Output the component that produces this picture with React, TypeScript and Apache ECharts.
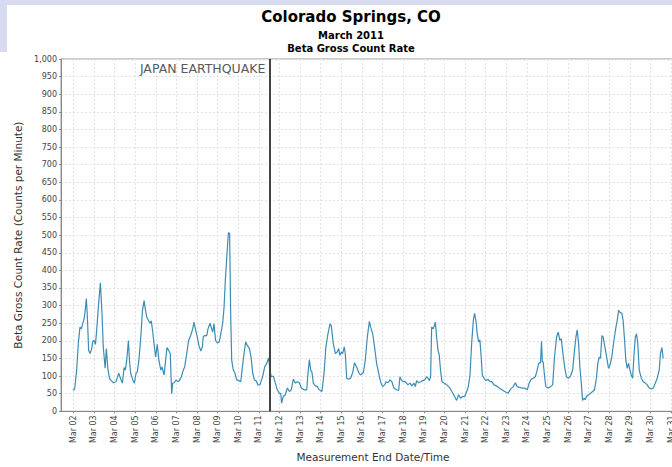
import React, { useEffect, useRef } from "react";
import * as echarts from "echarts";

// Measurement end time, as day of March 2011 (fractional), and gross beta count rate (CPM)
const readingDays: number[] = [
  1.97, 2.06, 2.16, 2.24, 2.32, 2.39, 2.45, 2.52, 2.57, 2.63, 2.68, 2.74, 2.81, 2.89, 2.94, 3.0, 3.07, 3.13, 3.21, 3.31,
  3.39, 3.45, 3.54, 3.6, 3.67, 3.75, 3.83, 3.94, 4.07, 4.2, 4.3, 4.38, 4.46, 4.52, 4.59, 4.67, 4.72, 4.78, 4.88, 4.96,
  5.04, 5.1, 5.18, 5.27, 5.35, 5.43, 5.49, 5.56, 5.65, 5.72, 5.78, 5.85, 5.93, 5.99, 6.07, 6.15, 6.24, 6.3, 6.4, 6.46,
  6.54, 6.62, 6.7, 6.77, 6.82, 6.9, 6.98, 7.06, 7.14, 7.24, 7.33, 7.4, 7.5, 7.59, 7.69, 7.79, 7.85, 7.92, 8.01, 8.09,
  8.18, 8.26, 8.3, 8.37, 8.47, 8.53, 8.63, 8.71, 8.76, 8.82, 8.9, 8.98, 9.08, 9.15, 9.24, 9.31, 9.37, 9.47, 9.52, 9.58,
  9.63, 9.68, 9.76, 9.84, 9.92, 10.03, 10.12, 10.2, 10.28, 10.36, 10.44, 10.54, 10.62, 10.7, 10.78, 10.86, 10.96, 11.05,
  11.18, 11.28, 11.38, 11.47, 11.54, 11.6, 11.7, 11.8, 11.89, 11.99, 12.06, 12.1, 12.18, 12.28, 12.38, 12.48, 12.57,
  12.67, 12.77, 12.86, 12.96, 13.06, 13.19, 13.32, 13.38, 13.45, 13.51, 13.57, 13.64, 13.74, 13.83, 13.93, 14.06, 14.16,
  14.25, 14.35, 14.45, 14.51, 14.61, 14.71, 14.8, 14.87, 14.93, 15.0, 15.06, 15.14, 15.19, 15.26, 15.35, 15.45, 15.55,
  15.64, 15.74, 15.84, 15.93, 16.07, 16.16, 16.26, 16.36, 16.42, 16.52, 16.61, 16.71, 16.81, 16.9, 17.0, 17.1, 17.16,
  17.26, 17.36, 17.45, 17.55, 17.68, 17.78, 17.84, 17.91, 18.0, 18.1, 18.23, 18.33, 18.42, 18.52, 18.59, 18.65, 18.75,
  18.85, 18.94, 19.04, 19.14, 19.2, 19.27, 19.33, 19.38, 19.46, 19.56, 19.62, 19.69, 19.75, 19.81, 19.88, 19.98, 20.11,
  20.24, 20.36, 20.49, 20.59, 20.69, 20.78, 20.88, 20.98, 21.08, 21.16, 21.24, 21.32, 21.4, 21.46, 21.53, 21.59, 21.66,
  21.72, 21.77, 21.84, 21.92, 22.01, 22.11, 22.21, 22.3, 22.4, 22.53, 22.66, 22.79, 22.92, 23.08, 23.21, 23.34, 23.44,
  23.53, 23.63, 23.76, 23.89, 24.02, 24.11, 24.21, 24.31, 24.41, 24.5, 24.57, 24.66, 24.71, 24.75, 24.79, 24.86, 24.92,
  25.02, 25.15, 25.25, 25.34, 25.44, 25.52, 25.6, 25.67, 25.73, 25.83, 25.92, 26.02, 26.12, 26.22, 26.31, 26.38, 26.44,
  26.51, 26.57, 26.64, 26.7, 26.77, 26.83, 26.89, 26.99, 27.09, 27.19, 27.28, 27.38, 27.44, 27.51, 27.57, 27.64, 27.7,
  27.77, 27.87, 27.96, 28.03, 28.12, 28.22, 28.32, 28.38, 28.45, 28.51, 28.61, 28.67, 28.74, 28.8, 28.87, 28.93, 29.0,
  29.06, 29.13, 29.19, 29.26, 29.32, 29.38, 29.45, 29.55, 29.64, 29.74, 29.84, 29.93, 30.03, 30.13, 30.23, 30.32, 30.42,
  30.48, 30.55, 30.61,
];

const countRates: number[] = [
  60, 62, 117, 192, 239, 234, 248, 262, 285, 320, 267, 173, 164, 178, 199, 201, 190, 229, 295, 365,
  276, 183, 122, 178, 122, 94, 87, 81, 84, 108, 91, 80, 124, 117, 145, 201, 145, 108, 89, 80,
  108, 112, 145, 211, 285, 314, 290, 267, 257, 250, 257, 225, 183, 154, 190, 145, 117, 126, 103, 136,
  181, 173, 164, 50, 80, 81, 89, 84, 87, 98, 117, 126, 164, 201, 215, 234, 253, 234, 211, 187,
  171, 183, 211, 215, 215, 234, 250, 234, 225, 248, 201, 194, 197, 220, 248, 295, 370, 463, 507, 505,
  276, 145, 117, 108, 89, 87, 84, 126, 164, 197, 187, 178, 154, 108, 89, 87, 75, 75,
  98, 126, 136, 152, 117, 98, 100, 80, 61, 51, 51, 23, 42, 47, 66, 56, 61,
  91, 80, 84, 81, 66, 61, 61, 108, 147, 117, 112, 80, 72, 70, 61, 56, 108,
  183, 220, 248, 243, 192, 164, 168, 178, 159, 168, 164, 183, 164, 94, 91, 94, 110,
  138, 126, 110, 103, 110, 145, 211, 255, 239, 220, 183, 136, 108, 84, 70, 75, 84,
  81, 89, 84, 66, 61, 59, 98, 89, 84, 84, 75, 80, 72, 80, 70, 87, 81,
  84, 87, 89, 98, 94, 87, 98, 239, 234, 253, 211, 173, 159, 117, 84, 80, 75,
  68, 56, 42, 31, 47, 37, 42, 42, 56, 70, 103, 192, 257, 278, 257, 220, 197,
  203, 164, 103, 94, 87, 91, 84, 84, 75, 72, 66, 61, 56, 51, 63, 70, 81,
  70, 68, 66, 66, 61, 80, 91, 94, 98, 117, 136, 138, 199, 140, 140, 98, 70,
  66, 70, 75, 154, 211, 225, 201, 206, 173, 126, 98, 94, 100, 117, 173, 211, 231,
  192, 126, 80, 31, 37, 33, 42, 47, 51, 56, 61, 98, 136, 154, 150, 215, 211,
  187, 154, 122, 131, 154, 201, 239, 257, 287, 281, 278, 257, 201, 145, 122, 136, 117,
  103, 94, 154, 211, 220, 192, 117, 94, 84, 80, 75, 66, 63, 66, 80, 94, 117,
  164, 181, 150,
];

// Daily ticks (day of March) and y ticks
const dayTicks: number[] = [2, 3, 4, 5, 6, 7, 8, 9, 10, 11, 12, 13, 14, 15, 16, 17, 18, 19, 20, 21, 22, 23, 24, 25, 26, 27, 28, 29, 30, 31];
const earthquakeDay = 11.51;
const earthquakeLabel = "JAPAN EARTHQUAKE";

const titleText = "Colorado Springs, CO";
const subTitle1 = "March 2011";
const subTitle2 = "Beta Gross Count Rate";
const yAxisName = "Beta Gross Count Rate (Counts per Minute)";
const xAxisName = "Measurement End Date/Time";

const FONT = "DejaVu Sans";

export default function App() {
  const ref = useRef<HTMLDivElement>(null);

  useEffect(() => {
    if (!ref.current) return;
    const chart = echarts.init(ref.current, undefined, { renderer: "svg" });
    const seriesData = readingDays.map((d, i) => [d, countRates[i]]);

    const backdrop = [
      { type: "rect", left: 0, top: 0, shape: { x: 0, y: 0, width: 702, height: 5 }, style: { fill: "#d8daf0" }, silent: true, z: 100 },
      { type: "rect", left: 0, top: 5, shape: { x: 0, y: 0, width: 7, height: 47 }, style: { fill: "#d8daf0" }, silent: true, z: 100 },
    ];

    chart.setOption({
      animation: false,
      backgroundColor: "#ffffff",
      title: [
        { text: titleText, left: "center", top: 4, textStyle: { fontFamily: FONT, fontWeight: "bold", fontSize: 15, color: "#000" } },
        { text: subTitle1, left: "center", top: 25, textStyle: { fontFamily: FONT, fontWeight: "bold", fontSize: 10, color: "#000" } },
        { text: subTitle2, left: "center", top: 38, textStyle: { fontFamily: FONT, fontWeight: "bold", fontSize: 10, color: "#000" } },
      ],
      grid: {
        left: 61,
        top: 59,
        right: 17,
        bottom: 52,
        show: true,
        borderColor: "#999",
        borderWidth: 1,
        backgroundColor: "#ffffff",
      },
      xAxis: {
        type: "value",
        min: 1.4,
        max: 31.67,
        name: xAxisName,
        nameLocation: "middle",
        nameGap: 38,
        nameTextStyle: { fontFamily: FONT, fontSize: 10.5, color: "#333" },
        axisLine: { show: true, onZero: false, lineStyle: { color: "#888" } },
        axisTick: { show: true, length: 2, customValues: dayTicks, lineStyle: { color: "#888" } },
        axisLabel: {
          customValues: dayTicks,
          rotate: 90,
          margin: 4,
          fontFamily: FONT,
          fontSize: 8,
          color: "#444",
          formatter: (v: number) => "Mar " + String(Math.round(v)).padStart(2, "0"),
        },
        splitLine: { show: true, lineStyle: { type: [2, 2], color: "#e2e2e2", width: 1 } },
      },
      yAxis: {
        type: "value",
        min: 0,
        max: 1000,
        interval: 50,
        name: yAxisName,
        nameLocation: "middle",
        nameGap: 30,
        nameTextStyle: { fontFamily: FONT, fontSize: 10.5, color: "#333" },
        axisLine: { show: true, lineStyle: { color: "#888" } },
        axisTick: { show: true, length: 2, lineStyle: { color: "#888" } },
        axisLabel: {
          margin: 4,
          fontFamily: FONT,
          fontSize: 8,
          color: "#444",
          formatter: (v: number) => v.toLocaleString("en-US"),
        },
        splitLine: { show: true, lineStyle: { type: [2, 2], color: "#e2e2e2", width: 1 } },
      },
      series: [
        {
          type: "line",
          data: seriesData,
          showSymbol: false,
          symbol: "none",
          lineStyle: { color: "#3b8db5", width: 1.2 },
          markLine: {
            silent: true,
            symbol: ["none", "none"],
            label: { show: false },
            lineStyle: { color: "#444", width: 2, type: "solid" },
            data: [{ xAxis: earthquakeDay }],
          },
        },
      ],
      graphic: backdrop,
    });

    const p = chart.convertToPixel({ xAxisIndex: 0, yAxisIndex: 0 }, [earthquakeDay, 1000]) as number[];
    chart.setOption({
      graphic: [
        ...backdrop,
        {
          type: "text",
          x: p[0] - 4,
          y: p[1] + 3,
          style: {
            text: earthquakeLabel,
            fontFamily: FONT,
            fontSize: 12.5,
            fill: "#5a5a5a",
            align: "right",
            verticalAlign: "top",
          },
          silent: true,
          z: 50,
        },
      ],
    });

    return () => chart.dispose();
  }, []);

  return (
    <div style={{ position: "fixed", left: 0, top: 0, width: 672, height: 467, overflow: "hidden", background: "#fff" }}>
      <div ref={ref} style={{ width: 702, height: 467 }} />
    </div>
  );
}
